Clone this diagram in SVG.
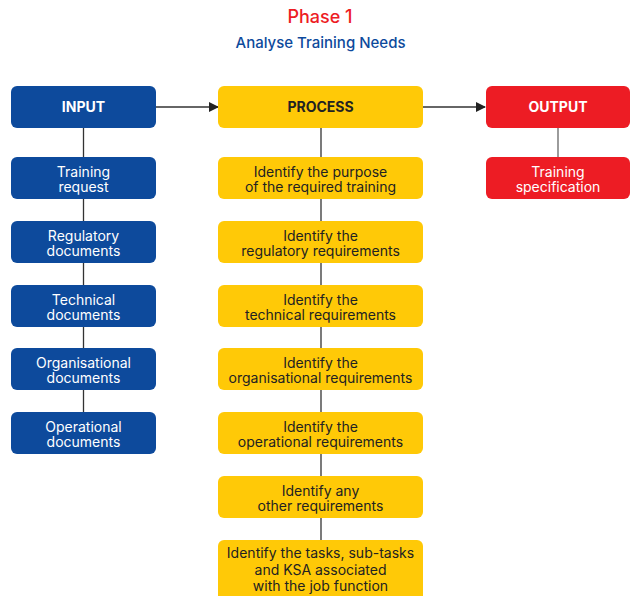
<svg xmlns="http://www.w3.org/2000/svg" width="631" height="596" viewBox="0 0 631 596">
<style>
text{font-family:Inter,"Noto Sans","Liberation Sans",sans-serif;text-anchor:middle}
.blue{fill:#0D4A9C}
.yel{fill:#FFC907}
.red{fill:#ED1C24}
.hd{font-size:14px;font-weight:700;fill:#fff}
.hdy{font-size:14px;font-weight:700;fill:#222}
.wt{font-size:14px;fill:#fff}
.dk{font-size:14px;fill:#222}
.ln{stroke:#333;stroke-width:1.3;fill:none}
</style>
<defs>
<marker id="ah" markerWidth="10" markerHeight="10" refX="9" refY="5" orient="auto" markerUnits="userSpaceOnUse">
<path d="M0,0 L10,5 L0,10 Z" fill="#222"/>
</marker>
</defs>
<g id="title">
<text x="320" y="23" style="font-size:18px;font-weight:500;fill:#ED1C24">Phase 1</text>
<text x="320.5" y="48" style="font-size:15px;font-weight:500;fill:#0D4A9C">Analyse Training Needs</text>
</g>
<g id="connectors">
<line class="ln" x1="156" y1="107" x2="218" y2="107" marker-end="url(#ah)"/>
<line class="ln" x1="423" y1="107" x2="485" y2="107" marker-end="url(#ah)"/>
<line class="ln" x1="83.5" y1="128" x2="83.5" y2="412"/>
<line class="ln" x1="321" y1="128" x2="321" y2="540"/>
<line class="ln" x1="558" y1="128" x2="558" y2="157" style="stroke:#666"/>
</g>
<g id="input">
<rect class="blue" x="11" y="86" width="145" height="42" rx="6"/>
<text class="hd" x="83.5" y="112">INPUT</text>
</g>
<g id="in1"><rect class="blue" x="11" y="157" width="145" height="42" rx="6"/>
<text class="wt" x="83.5" y="176.5">Training</text><text class="wt" x="83.5" y="192">request</text></g>
<g id="in2"><rect class="blue" x="11" y="221" width="145" height="42" rx="6"/>
<text class="wt" x="83.5" y="240.5">Regulatory</text><text class="wt" x="83.5" y="256">documents</text></g>
<g id="in3"><rect class="blue" x="11" y="285" width="145" height="42" rx="6"/>
<text class="wt" x="83.5" y="304.5">Technical</text><text class="wt" x="83.5" y="320">documents</text></g>
<g id="in4"><rect class="blue" x="11" y="348" width="145" height="42" rx="6"/>
<text class="wt" x="83.5" y="367.5">Organisational</text><text class="wt" x="83.5" y="383">documents</text></g>
<g id="in5"><rect class="blue" x="11" y="412" width="145" height="42" rx="6"/>
<text class="wt" x="83.5" y="431.5">Operational</text><text class="wt" x="83.5" y="447">documents</text></g>
<g id="process">
<rect class="yel" x="218" y="86" width="205" height="42" rx="6"/>
<text class="hdy" x="320.5" y="112">PROCESS</text>
</g>
<g id="p1"><rect class="yel" x="218" y="157" width="205" height="42" rx="6"/>
<text class="dk" x="320.5" y="176.5">Identify the purpose</text><text class="dk" x="320.5" y="192">of the required training</text></g>
<g id="p2"><rect class="yel" x="218" y="221" width="205" height="42" rx="6"/>
<text class="dk" x="320.5" y="240.5">Identify the</text><text class="dk" x="320.5" y="256">regulatory requirements</text></g>
<g id="p3"><rect class="yel" x="218" y="285" width="205" height="42" rx="6"/>
<text class="dk" x="320.5" y="304.5">Identify the</text><text class="dk" x="320.5" y="320">technical requirements</text></g>
<g id="p4"><rect class="yel" x="218" y="348" width="205" height="42" rx="6"/>
<text class="dk" x="320.5" y="367.5">Identify the</text><text class="dk" x="320.5" y="383">organisational requirements</text></g>
<g id="p5"><rect class="yel" x="218" y="412" width="205" height="42" rx="6"/>
<text class="dk" x="320.5" y="431.5">Identify the</text><text class="dk" x="320.5" y="447">operational requirements</text></g>
<g id="p6"><rect class="yel" x="218" y="476" width="205" height="42" rx="6"/>
<text class="dk" x="320.5" y="495.5">Identify any</text><text class="dk" x="320.5" y="511">other requirements</text></g>
<g id="p7"><rect class="yel" x="218" y="540" width="205" height="70" rx="6"/>
<text class="dk" x="320.5" y="558">Identify the tasks, sub-tasks</text><text class="dk" x="320.5" y="574.5">and KSA associated</text><text class="dk" x="320.5" y="591">with the job function</text></g>
<g id="output">
<rect class="red" x="486" y="86" width="144" height="42" rx="6"/>
<text class="hd" x="558" y="112">OUTPUT</text>
</g>
<g id="o1"><rect class="red" x="486" y="157" width="144" height="42" rx="6"/>
<text class="wt" x="558" y="176.5">Training</text><text class="wt" x="558" y="192">specification</text></g>
</svg>
